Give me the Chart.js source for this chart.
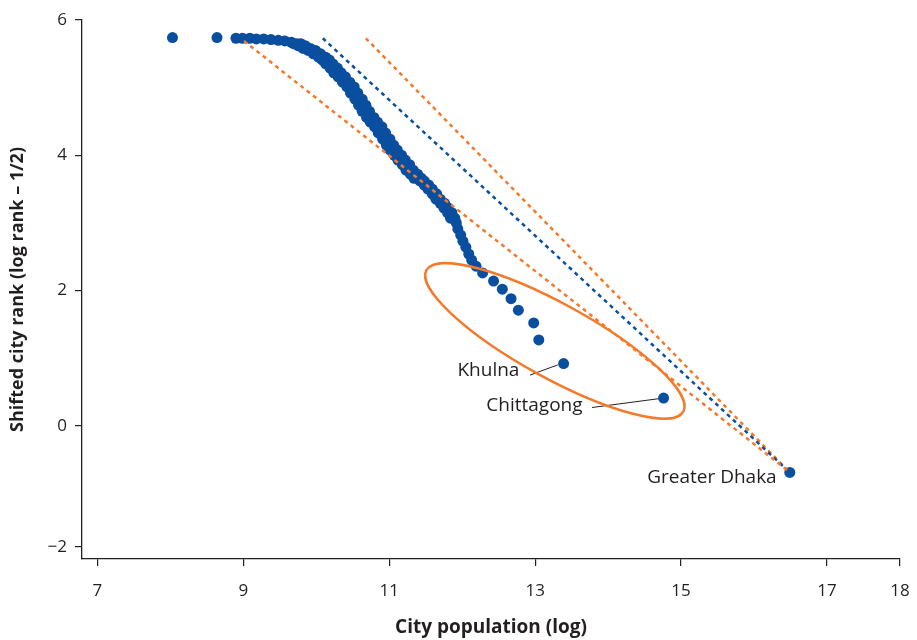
<!DOCTYPE html>
<html>
<head>
<meta charset="utf-8">
<script src="https://cdn.jsdelivr.net/npm/chart.js@4.4.0/dist/chart.umd.min.js"></script>
<style>
  body { margin: 0; background: #fff; }
  #wrap { width: 917px; height: 640px; }
</style>
</head>
<body>
<div id="wrap"><canvas id="zipf-chart"></canvas></div>
<script>
// city sizes (log population) and shifted ranks
const popLog = [
  16.49, 14.76, 13.39, 13.05, 12.98, 12.77, 12.67, 12.55, 12.43, 12.28,
  12.19, 12.13, 12.09, 12.05, 12.01, 11.98, 11.94, 11.92, 11.87, 11.83,
  11.78, 11.73, 11.67, 11.62, 11.56, 11.51, 11.45, 11.39, 11.34, 11.28,
  11.23, 11.17, 11.12, 11.06, 11.01, 10.96, 10.90, 10.85, 10.79, 10.74,
  10.68, 10.63, 10.58, 10.52, 10.47, 10.41, 10.35, 10.29, 10.24, 10.18,
  10.13, 10.08, 10.01, 9.94, 9.87, 9.80, 9.74, 9.66, 9.57, 9.48,
  9.38, 9.28, 9.18, 9.09, 8.99, 8.90, 8.64, 8.03,
  // dense band, right-hand cities
  11.90, 11.86, 11.81, 11.76, 11.70, 11.65, 11.59, 11.54, 11.48,
  11.44, 11.39, 11.33, 11.28, 11.22, 11.17, 11.11, 11.06, 11.01, 10.95,
  10.90, 10.84, 10.79, 10.73, 10.68, 10.63, 10.57, 10.52, 10.46, 10.40,
  10.34, 10.29, 10.23, 10.18, 10.13, 10.06, 9.99, 9.92, 9.85, 9.79,
  // dense band, left-hand cities
  11.84, 11.80, 11.75, 11.70, 11.64, 11.59, 11.53, 11.48, 11.42,
  11.34, 11.29, 11.23, 11.18, 11.12, 11.07, 11.01, 10.96, 10.91, 10.85,
  10.80, 10.74, 10.69, 10.63, 10.58, 10.53, 10.47, 10.42, 10.36, 10.30,
  10.24, 10.19, 10.13, 10.08, 10.03, 9.96, 9.89, 9.82, 9.75, 9.69
];
const rankLog = [
  -0.69, 0.41, 0.92, 1.27, 1.52, 1.71, 1.88, 2.02, 2.14, 2.26,
  2.36, 2.45, 2.54, 2.64, 2.73, 2.82, 2.91, 3.00, 3.07, 3.15,
  3.22, 3.29, 3.35, 3.43, 3.50, 3.56, 3.62, 3.66, 3.72, 3.78,
  3.86, 3.93, 4.00, 4.08, 4.15, 4.24, 4.33, 4.42, 4.49, 4.56,
  4.65, 4.74, 4.83, 4.92, 5.01, 5.08, 5.16, 5.22, 5.29, 5.35,
  5.41, 5.45, 5.50, 5.55, 5.58, 5.62, 5.65, 5.67, 5.69, 5.70,
  5.71, 5.72, 5.72, 5.73, 5.73, 5.73, 5.74, 5.74,
  3.07, 3.15, 3.22, 3.29, 3.35, 3.43, 3.50, 3.56, 3.62,
  3.66, 3.72, 3.78, 3.86, 3.93, 4.00, 4.08, 4.15, 4.24, 4.33,
  4.42, 4.49, 4.56, 4.65, 4.74, 4.83, 4.92, 5.01, 5.08, 5.16,
  5.22, 5.29, 5.35, 5.41, 5.45, 5.50, 5.55, 5.58, 5.62, 5.65,
  3.07, 3.15, 3.22, 3.29, 3.35, 3.43, 3.50, 3.56, 3.62,
  3.66, 3.72, 3.78, 3.86, 3.93, 4.00, 4.08, 4.15, 4.24, 4.33,
  4.42, 4.49, 4.56, 4.65, 4.74, 4.83, 4.92, 5.01, 5.08, 5.16,
  5.22, 5.29, 5.35, 5.41, 5.45, 5.50, 5.55, 5.58, 5.62, 5.65
];

const xTicks = [7, 9, 11, 13, 15, 17, 18];
const yTickValues = [-1.79, 0, 2, 4, 6];
const yTickLabels = ["\u22122", "0", "2", "4", "6"];

// dashed reference lines, all ending at Greater Dhaka
const fitStartX = [9.01, 10.09, 10.68];
const fitStartY = [5.69, 5.73, 5.73];
const fitEndX = 16.48;
const fitEndY = -0.68;

// city labels and leader lines
const cityNames = ["Khulna", "Chittagong", "Greater Dhaka"];
const cityLabelX = [12.36, 12.99, 16.31];
const cityLabelY = [0.81, 0.30, -0.77];
const leaderFromX = [12.93, 13.78];
const leaderFromY = [0.75, 0.27];
const leaderToX = [13.31, 14.69];
const leaderToY = [0.90, 0.40];

// ring around the second-tier cities: tips of the long axis
const ringTipX = [11.51, 15.03];
const ringTipY = [2.30, 0.21];

const blue = "#0a4f9f";
const orange = "#f47a2a";
const ink = "#231f20";
const fontFam = "'Open Sans', 'Noto Sans', sans-serif";

const cityPoints = popLog.map((v, i) => ({ x: v, y: rankLog[i] }));
const fitColors = [orange, blue, orange];

const fitSets = fitStartX.map((sx, i) => ({
  data: [{ x: sx, y: fitStartY[i] }, { x: fitEndX, y: fitEndY }],
  showLine: true,
  borderColor: fitColors[i],
  borderWidth: 2.5,
  borderDash: [4, 4],
  pointRadius: 0,
  order: 1,
}));

const leaderSets = leaderFromX.map((fx, i) => ({
  data: [{ x: fx, y: leaderFromY[i] }, { x: leaderToX[i], y: leaderToY[i] }],
  showLine: true,
  borderColor: ink,
  borderWidth: 1,
  pointRadius: 0,
  order: 2,
}));

const overlay = {
  id: "overlay",
  afterDatasetsDraw(chart) {
    const { ctx, scales: { x, y } } = chart;
    const x1 = x.getPixelForValue(ringTipX[0]);
    const y1 = y.getPixelForValue(ringTipY[0]);
    const x2 = x.getPixelForValue(ringTipX[1]);
    const y2 = y.getPixelForValue(ringTipY[1]);
    ctx.save();
    ctx.strokeStyle = orange;
    ctx.lineWidth = 2.5;
    ctx.beginPath();
    ctx.ellipse((x1 + x2) / 2, (y1 + y2) / 2, Math.hypot(x2 - x1, y2 - y1) / 2, 37,
      Math.atan2(y2 - y1, x2 - x1), 0, Math.PI * 2);
    ctx.stroke();

    ctx.fillStyle = ink;
    ctx.font = "19px " + fontFam;
    ctx.textBaseline = "middle";
    cityNames.forEach((name, i) => {
      ctx.textAlign = i == 2 ? "right" : "center";
      ctx.fillText(name, x.getPixelForValue(cityLabelX[i]), y.getPixelForValue(cityLabelY[i]));
    });
    ctx.restore();
  },
};

new Chart(document.querySelector("#zipf-chart"), {
  type: "scatter",
  data: {
    datasets: [
      ...fitSets,
      ...leaderSets,
      {
        data: cityPoints,
        backgroundColor: blue,
        borderWidth: 0,
        pointRadius: 5.5,
        order: 3,
      },
    ],
  },
  options: {
    responsive: true,
    maintainAspectRatio: false,
    animation: false,
    layout: { padding: { top: 20, right: 17, left: 0, bottom: 0 } },
    plugins: { legend: { display: false }, tooltip: { enabled: false } },
    scales: {
      x: {
        type: "linear",
        min: 6.79,
        max: 18,
        afterBuildTicks: (s) => { s.ticks = xTicks.map((v) => ({ value: v })); },
        afterFit: (s) => {
          s.height = 81;
          s.paddingLeft = 0;
          s.paddingRight = 0;
        },
        ticks: { color: ink, font: { size: 17, family: fontFam }, padding: 15, callback: (v) => String(v) },
        grid: { drawOnChartArea: false, drawTicks: true, tickLength: 7, color: ink, lineWidth: 1.2 },
        border: { color: ink, width: 1.3 },
        title: {
          display: true,
          text: "City population (log)",
          color: ink,
          font: { size: 19, weight: "bold", family: fontFam },
          padding: { top: 0, bottom: 1 },
        },
      },
      y: {
        type: "linear",
        min: -1.97,
        max: 6,
        afterBuildTicks: (s) => { s.ticks = yTickValues.map((v) => ({ value: v })); },
        afterFit: (s) => { s.width = 82; },
        ticks: { color: ink, font: { size: 17, family: fontFam }, padding: 8, callback: (v, i) => yTickLabels[i] },
        grid: { drawOnChartArea: false, drawTicks: true, tickLength: 7, color: ink, lineWidth: 1.2 },
        border: { color: ink, width: 1.3 },
        title: {
          display: true,
          text: "Shifted city rank (log rank \u2013 1/2)",
          color: ink,
          font: { size: 18, weight: "bold", family: fontFam },
          padding: { top: 7, bottom: 0 },
        },
      },
    },
  },
  plugins: [overlay],
});
</script>
</body>
</html>
